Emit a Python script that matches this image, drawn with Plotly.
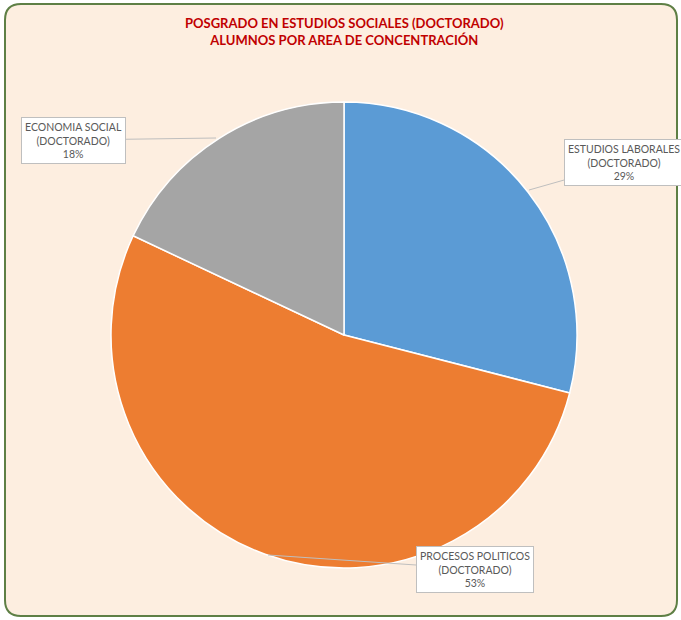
import plotly.graph_objects as go

labels = ["ESTUDIOS LABORALES<br>(DOCTORADO)", "PROCESOS POLITICOS<br>(DOCTORADO)", "ECONOMIA SOCIAL<br>(DOCTORADO)"]
values = [29, 53, 18]
colors = ["#5B9BD5", "#ED7D31", "#A5A5A5"]
pct_text = ["29%", "53%", "18%"]

W, H = 681, 620
def px(x):
    return x / W
def py(y):
    return 1 - y / H

fig = go.Figure()
fig.add_trace(go.Pie(
    values=values,
    labels=["ESTUDIOS LABORALES", "PROCESOS POLITICOS", "ECONOMIA SOCIAL"],
    marker=dict(colors=colors, line=dict(color="white", width=1.5)),
    sort=False, direction="clockwise", rotation=0,
    textinfo="none", hoverinfo="label+percent",
    domain=dict(x=[px(111), px(577)], y=[py(568), py(102)]),
    showlegend=False,
))

# callout annotations: (tip x, tip y, text center x, text center y)
callouts = [
    (529, 190, 624, 163),
    (268, 555, 475, 569),
    (216, 138, 73, 140),
]
for (tx, ty, cx, cy), lab, pt in zip(callouts, labels, pct_text):
    fig.add_annotation(
        x=px(tx), y=py(ty), xref="paper", yref="paper",
        ax=cx - tx, ay=cy - ty, axref="pixel", ayref="pixel",
        text=lab + "<br>" + pt, showarrow=True, arrowhead=0,
        arrowcolor="#BFBFBF", arrowwidth=1,
        bgcolor="white", bordercolor="#BFBFBF", borderwidth=1, borderpad=3,
        font=dict(family="Lato, Open Sans, sans-serif", size=10.5, color="#595959"),
        align="center",
    )

fig.add_annotation(
    x=px(344), y=py(13), xref="paper", yref="paper", showarrow=False,
    xanchor="center", yanchor="top",
    text="<b>POSGRADO EN ESTUDIOS SOCIALES (DOCTORADO)<br>ALUMNOS POR AREA DE CONCENTRACIÓN</b>",
    font=dict(family="Lato, Open Sans, sans-serif", size=13, color="#C00000"),
    align="center",
)

# rounded border
x0, x1, y0, y1 = px(5), px(677), py(616), py(4)
rx, ry = 16 / W, 16 / H
path = (f"M {x0+rx},{y1} L {x1-rx},{y1} Q {x1},{y1} {x1},{y1-ry} "
        f"L {x1},{y0+ry} Q {x1},{y0} {x1-rx},{y0} L {x0+rx},{y0} "
        f"Q {x0},{y0} {x0},{y0+ry} L {x0},{y1-ry} Q {x0},{y1} {x0+rx},{y1} Z")
fig.add_shape(type="path", path=path, xref="paper", yref="paper",
              fillcolor="#FDEEE0", line=dict(color="#5E7F45", width=2), layer="below")

fig.update_layout(
    width=W, height=H, margin=dict(l=0, r=0, t=0, b=0),
    paper_bgcolor="white", plot_bgcolor="white",
)
fig.write_html("out.html", config={"displayModeBar": False},
               post_script="document.body.style.margin='0';document.body.style.overflow='hidden';")
